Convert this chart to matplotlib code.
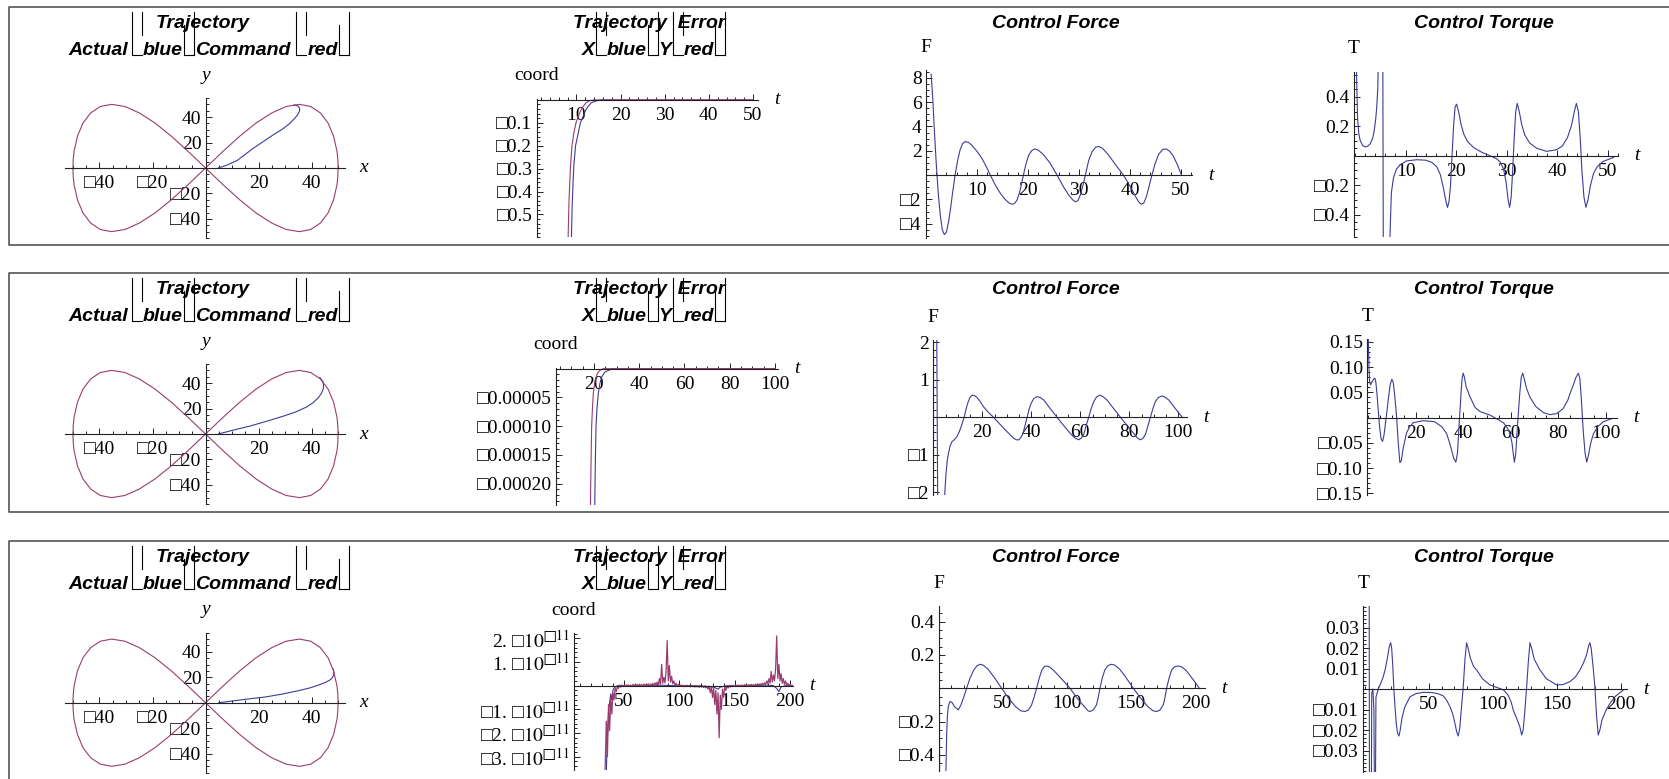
import numpy as np
import matplotlib
matplotlib.use("Agg")
import matplotlib.pyplot as plt
from matplotlib.lines import Line2D
from matplotlib.ticker import FixedLocator, MultipleLocator, FuncFormatter

plt.rcParams['font.family'] = ['Liberation Serif', 'DejaVu Sans']
plt.rcParams['mathtext.fontset'] = 'stix'
plt.rcParams['font.size'] = 14

W, H = 1669, 779
BLUE = '#3d3d99'
RED = '#993d71'

# ---------------- data ----------------
# commanded figure-eight (same in every row)
cmd_x = [0, 6.5, 12.9, 19.1, 25, 30.4, 35.4, 39.7, 43.3, 46.2, 48.3, 49.6, 49.9, 50,
         49.9, 49.6, 48.3, 46.2, 43.3, 39.7, 35.4, 30.4, 25, 19.1, 12.9, 6.5, 0,
         -6.5, -12.9, -19.1, -25, -30.4, -35.4, -39.7, -43.3, -46.2, -48.3, -49.6, -49.9, -50,
         -49.9, -49.6, -48.3, -46.2, -43.3, -39.7, -35.4, -30.4, -25, -19.1, -12.9, -6.5, 0]
cmd_y = [0, 12.9, 25, 35.4, 43.3, 48.3, 50, 48.3, 43.3, 35.4, 25, 12.9, 6.5, 0,
         -6.5, -12.9, -25, -35.4, -43.3, -48.3, -50, -48.3, -43.3, -35.4, -25, -12.9, 0,
         12.9, 25, 35.4, 43.3, 48.3, 50, 48.3, 43.3, 35.4, 25, 12.9, 6.5, 0,
         -6.5, -12.9, -25, -35.4, -43.3, -48.3, -50, -48.3, -43.3, -35.4, -25, -12.9, 0]

# actual path until it joins the command
act1 = [(4.8, 0), (8, 2.2), (12, 6), (18, 15.5), (25.5, 26), (29, 30.5), (31.8, 35),
        (33.6, 39), (34.7, 41.7), (35.4, 44.5), (35.5, 47), (34.8, 48.8), (33.3, 49.6)]
act2 = [(4.8, 0), (10, 2.8), (16.7, 6.2), (23, 10), (29.3, 14), (34, 17.3), (38.1, 21.2),
        (40.5, 24.5), (42.5, 28.4), (43.7, 32), (44.4, 35.4), (44.5, 38.5), (44.2, 41.3), (43.1, 44.4)]
act3 = [(5, 0), (10, 1.3), (16, 2.9), (22.6, 4.5), (29, 6.8), (35.2, 9.5), (39.5, 11.7),
        (42.8, 14), (45.3, 16), (47.2, 18.2), (48.1, 20.5), (48.4, 23), (48.3, 25.5), (48.0, 26.9)]

# trajectory error
err1_red = [(8.0, -0.7), (8.3, -0.45), (8.65, -0.29), (9.0, -0.2), (9.4, -0.146), (9.9, -0.1),
            (10.4, -0.073), (11.0, -0.045), (11.5, -0.029), (12.2, -0.012), (13.0, -0.003),
            (14.0, 0.0), (50.0, 0.0)]
err1_blue = [(8.75, -0.7), (9.05, -0.45), (9.4, -0.29), (9.8, -0.2), (10.4, -0.146), (10.9, -0.1),
             (11.5, -0.073), (12.1, -0.045), (12.6, -0.029), (13.4, -0.012), (14.5, -0.004),
             (15.8, 0.0), (50.0, 0.0)]
err2_red = [(18.4, -0.00026), (18.5, -0.000216), (18.75, -0.00015), (18.96, -0.000101),
            (19.3, -0.00007), (19.7, -0.0000433), (20.3, -0.000025), (20.9, -0.0000145),
            (21.7, -0.000007), (22.6, -0.000003), (24.0, 0.0), (100.0, 0.0)]
err2_blue = [(20.3, -0.00026), (20.4, -0.000216), (20.65, -0.00015), (20.9, -0.000101),
             (21.3, -0.00007), (21.9, -0.0000433), (22.6, -0.000026), (23.4, -0.0000145),
             (24.8, -0.000006), (26.4, -0.000003), (28.0, 0.0), (100.0, 0.0)]
# row 3 error in units of 1e-11, one value per step from t = 32
err3_t0 = 32
err3_red = [-4.5, -3.4, -1.5, -3.0, -0.8, -1.9, -0.5, -1.2, -0.3, -0.6,
            -0.1, -0.25, -0.05, -0.12, 0.02, -0.06, 0.03, -0.04, 0.02, -0.03,
            0.03, -0.02, 0.04, -0.03, 0.02, -0.02, 0.05, -0.02, 0.04, -0.01,
            0.05, -0.02, 0.06, -0.01, 0.05, -0.03, 0.07, -0.02, 0.06, 0.0,
            0.08, -0.02, 0.07, 0.01, 0.1, -0.01, 0.12, 0.02, 0.15, 0.03,
            0.3, 0.05, 0.9, 0.1, 0.35, 0.12, 0.6, 1.9, 0.2, 0.85,
            0.15, 0.4, 0.08, 0.2, 0.03, 0.1, -0.01, 0.05, -0.02, 0.03,
            -0.03, 0.02, -0.03, 0.01, -0.04, 0.02, -0.03, 0.0, -0.05, 0.01,
            -0.04, 0.0, -0.06, 0.01, -0.05, -0.01, -0.07, 0.0, -0.06, -0.02,
            -0.08, -0.01, -0.1, -0.03, -0.15, -0.02, -0.3, -0.05, -0.5, -0.1,
            -0.8, -0.2, -1.2, -0.3, -2.2, -0.4, -1.0, -0.15, -0.5, -0.05,
            -0.2, 0.0, -0.1, 0.01, -0.06, 0.02, -0.04, 0.01, -0.03, 0.02,
            -0.02, 0.03, -0.02, 0.02, -0.01, 0.03, -0.02, 0.04, 0.0, 0.03,
            -0.01, 0.04, 0.0, 0.05, 0.01, 0.04, 0.0, 0.06, 0.01, 0.07,
            0.02, 0.08, 0.03, 0.1, 0.04, 0.12, 0.05, 0.2, 0.08, 0.3,
            0.1, 0.6, 0.15, 0.45, 0.2, 0.7, 2.1, 0.3, 0.9, 0.2,
            0.5, 0.1, 0.3, 0.05, 0.2, 0.02, 0.1, 0.0, 0.05, 0.0,
            0.02, 0.0]
err3_blue = [(32, -4.5), (33, -4.0), (34, -3.6), (35, -2.2), (36, -1.1), (37, -0.7), (38, -0.35),
             (39, -0.6), (40, -0.2), (41, -0.1), (42, -0.05), (45, 0.01), (50, -0.01), (60, 0.01),
             (70, -0.01), (80, 0.02), (90, 0.01), (100, -0.01), (110, 0.0), (120, -0.02),
             (128, -0.04), (132, -0.08), (135, -0.15), (137, -0.06), (141, -0.02), (150, 0.0),
             (160, 0.01), (170, 0.01), (180, 0.02), (185, 0.0), (188, -0.12), (190, -0.25),
             (192, -0.05), (196, 0.0), (203, 0.0)]

# control force
force1 = [(1.0, 8.3), (1.3, 6.5), (1.6, 4.0), (2.0, 1.0), (2.4, -1.5), (2.8, -3.3), (3.2, -4.5),
          (3.6, -4.9), (4.0, -4.7), (4.4, -3.9), (4.8, -2.8), (5.2, -1.5), (5.7, 0.0), (6.2, 1.2),
          (6.7, 2.1), (7.2, 2.6), (7.7, 2.75), (8.3, 2.7), (9.0, 2.45), (10.0, 1.95), (11.0, 1.35),
          (12.0, 0.55), (12.6, 0.0), (13.5, -0.75), (14.5, -1.45), (15.5, -2.0), (16.3, -2.3),
          (16.9, -2.4), (17.3, -2.35), (17.8, -2.1), (18.3, -1.5), (18.7, -0.8), (19.1, 0.0),
          (19.6, 0.9), (20.1, 1.6), (20.7, 2.0), (21.3, 2.15), (22.0, 2.05), (23.0, 1.7),
          (24.3, 1.0), (25.7, 0.0), (27.0, -1.0), (28.0, -1.65), (28.8, -2.05), (29.3, -2.2),
          (29.8, -2.1), (30.3, -1.6), (30.8, -0.8), (31.3, 0.1), (31.9, 1.2), (32.6, 1.95),
          (33.3, 2.3), (33.9, 2.35), (34.6, 2.2), (35.6, 1.75), (37.0, 0.95), (38.7, 0.0),
          (40.0, -0.9), (41.0, -1.7), (41.7, -2.2), (42.2, -2.4), (42.7, -2.3), (43.2, -1.8),
          (43.7, -1.0), (44.3, 0.0), (44.9, 0.9), (45.6, 1.7), (46.4, 2.1), (47.1, 2.15),
          (47.8, 1.95), (48.5, 1.55), (49.3, 0.85), (50.0, 0.1)]
force2 = [(1.4, 2.3), (1.8, -2.3), (4.5, -2.3), (4.7, -2.0), (5.2, -1.49), (5.7, -1.15),
          (6.2, -0.96), (6.8, -0.78), (7.5, -0.66), (8.5, -0.6), (9.6, -0.52), (10.5, -0.4),
          (11.3, -0.26), (12.0, -0.12), (12.6, 0.0), (13.3, 0.2), (14.0, 0.37), (14.9, 0.52),
          (15.8, 0.59), (16.8, 0.58), (17.8, 0.53), (19.0, 0.43), (20.5, 0.28), (22.5, 0.13),
          (24.6, 0.0), (26.7, -0.15), (28.7, -0.29), (30.8, -0.43), (32.8, -0.56), (34.0, -0.6),
          (34.9, -0.6), (35.8, -0.53), (36.6, -0.43), (37.5, -0.2), (38.3, 0.0), (39.1, 0.22),
          (39.9, 0.37), (41.0, 0.5), (42.3, 0.55), (43.6, 0.53), (45.1, 0.46), (47.5, 0.25),
          (50.5, 0.0), (53.2, -0.22), (55.9, -0.43), (57.8, -0.55), (59.3, -0.6), (60.4, -0.55),
          (61.4, -0.45), (62.4, -0.22), (63.4, 0.0), (64.4, 0.23), (65.5, 0.42), (66.6, 0.54),
          (67.9, 0.59), (69.3, 0.55), (70.9, 0.46), (73.5, 0.24), (76.4, 0.0), (79.1, -0.22),
          (81.8, -0.43), (83.3, -0.55), (84.5, -0.6), (85.6, -0.56), (86.6, -0.45), (87.6, -0.22),
          (88.6, 0.0), (89.6, 0.23), (90.6, 0.42), (91.9, 0.53), (93.4, 0.57), (94.7, 0.53),
          (96.1, 0.46), (98.8, 0.23), (101.6, 0.0)]
force3 = [(0.5, 0.6), (0.9, -0.6), (5.5, -0.6), (5.8, -0.49), (6.3, -0.3), (6.9, -0.17),
          (7.6, -0.11), (8.9, -0.08), (10.5, -0.085), (12.5, -0.11), (15.4, -0.13), (17.5, -0.1),
          (19.8, -0.05), (21.9, 0.0), (24.5, 0.06), (27.5, 0.11), (30.0, 0.135), (32.3, 0.144),
          (35.0, 0.138), (38.5, 0.115), (43.0, 0.07), (49.2, 0.0), (54.5, -0.06), (60.0, -0.11),
          (64.0, -0.135), (67.3, -0.14), (70.0, -0.13), (72.5, -0.1), (74.6, -0.05), (76.4, 0.0),
          (78.4, 0.06), (80.5, 0.11), (82.5, 0.13), (84.2, 0.134), (86.5, 0.128), (90.0, 0.105),
          (96.0, 0.055), (102.4, 0.0), (108.0, -0.06), (113.5, -0.11), (116.5, -0.135),
          (117.9, -0.14), (120.5, -0.13), (123.0, -0.1), (124.5, -0.05), (125.7, 0.0),
          (127.5, 0.06), (129.5, 0.11), (132.0, 0.137), (134.8, 0.144), (137.5, 0.138),
          (141.0, 0.115), (145.5, 0.07), (151.7, 0.0), (157.5, -0.06), (163.0, -0.11),
          (167.0, -0.135), (169.8, -0.14), (172.5, -0.13), (175.0, -0.1), (176.5, -0.05),
          (177.6, 0.0), (179.5, 0.06), (181.5, 0.11), (184.0, 0.13), (186.7, 0.134),
          (189.5, 0.128), (193.0, 0.105), (198.0, 0.055), (203.1, 0.0)]

# control torque
torque1 = [(0.2, 0.7), (0.5, 0.26), (0.75, 0.15), (1.0, 0.106), (1.5, 0.07), (2.0, 0.06),
           (2.5, 0.065), (3.0, 0.08), (3.5, 0.12), (3.8, 0.17), (4.1, 0.25), (4.3, 0.33),
           (4.5, 0.45), (4.65, 0.7), (5.5, 0.7), (5.6, -0.7), (6.8, -0.7), (7.0, -0.45),
           (7.2, -0.25), (7.6, -0.15), (8.2, -0.09), (9.0, -0.06), (10.2, -0.035), (12.2, -0.027),
           (14.0, -0.03), (15.2, -0.045), (16.2, -0.075), (16.9, -0.13), (17.5, -0.22),
           (18.0, -0.31), (18.3, -0.35), (18.6, -0.31), (18.9, -0.2), (19.2, 0.0), (19.5, 0.2),
           (19.8, 0.33), (20.1, 0.35), (20.5, 0.3), (21.0, 0.21), (21.6, 0.14), (22.3, 0.095),
           (23.5, 0.055), (25.0, 0.025), (26.7, 0.0), (28.0, -0.02), (28.8, -0.045), (29.4, -0.09),
           (29.9, -0.18), (30.3, -0.3), (30.6, -0.35), (30.9, -0.28), (31.2, -0.1), (31.5, 0.12),
           (31.8, 0.3), (32.1, 0.355), (32.5, 0.3), (33.0, 0.21), (33.6, 0.14), (34.6, 0.085),
           (36.0, 0.05), (37.9, 0.03), (39.8, 0.04), (41.0, 0.065), (42.0, 0.12), (42.8, 0.2),
           (43.4, 0.3), (43.8, 0.355), (44.2, 0.3), (44.6, 0.1), (44.9, -0.1), (45.3, -0.28),
           (45.7, -0.35), (46.1, -0.3), (46.6, -0.2), (47.2, -0.12), (47.9, -0.075), (49.0, -0.04),
           (50.5, -0.02), (51.2, -0.01)]
torque2 = [(0.1, 0.16), (0.4, 0.1), (0.7, 0.07), (1.1, 0.065), (1.8, 0.072), (2.5, 0.077),
           (2.9, 0.078), (3.3, 0.07), (3.8, 0.045), (4.3, 0.015), (4.9, -0.02), (5.5, -0.042),
           (6.1, -0.047), (6.7, -0.035), (7.5, -0.005), (8.5, 0.035), (9.3, 0.065), (10.0, 0.076),
           (10.6, 0.07), (11.2, 0.045), (12.0, 0.002), (12.7, -0.05), (13.4, -0.089),
           (14.0, -0.085), (14.8, -0.06), (16.2, -0.03), (17.5, -0.018), (19.0, -0.01),
           (23.2, -0.006), (28.0, -0.008), (31.0, -0.018), (33.0, -0.031), (34.3, -0.05),
           (35.1, -0.064), (36.0, -0.08), (36.9, -0.088), (37.6, -0.07), (38.2, -0.02),
           (38.6, 0.01), (39.1, 0.05), (39.6, 0.08), (40.0, 0.088), (40.5, 0.08), (41.3, 0.06),
           (42.8, 0.042), (45.0, 0.02), (47.1, 0.012), (51.3, 0.005), (54.0, -0.002),
           (56.9, -0.01), (58.5, -0.02), (59.7, -0.031), (60.5, -0.05), (61.0, -0.07),
           (61.5, -0.088), (62.1, -0.07), (62.6, -0.03), (63.2, 0.01), (63.8, 0.05), (64.4, 0.08),
           (65.0, 0.088), (65.6, 0.078), (66.6, 0.058), (68.1, 0.04), (70.5, 0.022), (73.7, 0.01),
           (76.5, 0.006), (79.3, 0.008), (82.0, 0.018), (84.0, 0.035), (84.9, 0.048),
           (86.3, 0.065), (87.4, 0.08), (88.4, 0.088), (89.0, 0.078), (89.6, 0.04), (90.1, 0.0),
           (90.5, -0.03), (91.2, -0.07), (91.9, -0.088), (92.6, -0.075), (93.6, -0.05),
           (94.7, -0.032), (96.5, -0.018), (98.9, -0.008), (102.4, -0.002)]
torque3 = [(3.3, 0.05), (3.5, -0.05), (5.0, -0.05), (5.3, -0.002), (6.2, 0.0), (7.0, -0.01),
           (7.4, -0.05), (8.2, -0.05), (8.6, -0.004), (10.4, 0.0), (12.5, 0.003), (14.3, 0.006),
           (16.0, 0.01), (17.5, 0.015), (19.0, 0.0206), (20.1, 0.0226), (20.9, 0.02), (21.8, 0.011),
           (22.6, 0.0), (23.5, -0.0086), (24.5, -0.017), (25.5, -0.0215), (26.6, -0.0229),
           (27.6, -0.02), (29.0, -0.014), (31.0, -0.009), (35.2, -0.0038), (40.0, -0.0022),
           (45.6, -0.0016), (52.0, -0.0017), (56.1, -0.0021), (61.0, -0.0032), (64.0, -0.0055),
           (66.5, -0.0086), (68.6, -0.012), (70.4, -0.0167), (71.8, -0.021), (73.0, -0.0229),
           (74.2, -0.019), (75.5, -0.009), (76.9, 0.0011), (78.2, 0.014), (79.5, 0.0226),
           (80.7, 0.02), (82.5, 0.015), (85.0, 0.011), (87.4, 0.0093), (92.0, 0.005), (97.8, 0.002),
           (103.0, 0.0008), (108.2, -0.0003), (112.0, -0.003), (114.5, -0.0065), (116.0, -0.0102),
           (118.8, -0.0145), (121.2, -0.0184), (122.6, -0.0224), (123.8, -0.02), (125.2, -0.01),
           (126.5, 0.001), (127.8, 0.013), (129.1, 0.0226), (130.4, 0.02), (132.5, 0.0145),
           (136.9, 0.0093), (142.0, 0.005), (150.0, 0.002), (155.0, 0.0022), (160.4, 0.0036),
           (164.5, 0.0058), (168.0, 0.009), (170.8, 0.0125), (173.3, 0.0165), (175.0, 0.021),
           (176.0, 0.0226), (177.0, 0.02), (178.5, 0.011), (179.9, 0.001), (181.2, -0.013),
           (182.5, -0.0224), (183.8, -0.02), (185.5, -0.015), (188.5, -0.0105), (191.7, -0.007),
           (196.0, -0.0035), (202.1, -0.0005)]

# tick values
traj_ticks = [-40, -20, 20, 40]
err_xticks = [[10, 20, 30, 40, 50], [20, 40, 60, 80, 100], [50, 100, 150, 200]]
err_yticks = [[-0.5, -0.4, -0.3, -0.2, -0.1], [-0.0002, -0.00015, -0.0001, -0.00005],
              [-3e-11, -2e-11, -1e-11, 1e-11, 2e-11]]
force_xticks = err_xticks
force_yticks = [[-4, -2, 2, 4, 6, 8], [-2, -1, 1, 2], [-0.4, -0.2, 0.2, 0.4]]
torque_xticks = err_xticks
torque_yticks = [[-0.4, -0.2, 0.2, 0.4], [-0.15, -0.1, -0.05, 0.05, 0.1, 0.15],
                 [-0.03, -0.02, -0.01, 0.01, 0.02, 0.03]]

# ---------------- figure ----------------
fig = plt.figure(figsize=(W / 100, H / 100), dpi=100)
renderer = fig.canvas.get_renderer()
TITLE_KW = dict(family=['Liberation Sans', 'DejaVu Sans'], weight='bold', style='italic', size=14)
AX_COLOR = '#222222'


def fx(x):
    return x / W


def fy(y):
    return 1 - y / H


def fig_line(xs, ys, color='black', lw=0.8):
    fig.add_artist(Line2D([fx(x) for x in xs], [fy(y) for y in ys], color=color, lw=lw))


def neg_fmt(fmt):
    return FuncFormatter(lambda v, pos: ('□' if v < 0 else '') + (fmt % abs(v)))


def sci_fmt(v, pos):
    m = v / 1e-11
    return ('□' if m < 0 else '') + '%d. □' % round(abs(m)) + r'$\mathrm{10}^{□11}$'


def make_axes(box, xlim, ylim, xspine, xt, yt, xminor, yminor, xf, yf, xlab, ylab):
    x0, x1, y0, y1 = box
    ax = fig.add_axes([fx(x0), fy(y1), (x1 - x0) / W, (y1 - y0) / H])
    ax.set_xlim(xlim)
    ax.set_ylim(ylim)
    ax.patch.set_visible(False)
    for s in ('top', 'right'):
        ax.spines[s].set_visible(False)
    ax.spines['left'].set_position(('data', xspine))
    ax.spines['bottom'].set_position(('data', 0))
    for s in ('left', 'bottom'):
        ax.spines[s].set_color(AX_COLOR)
        ax.spines[s].set_linewidth(0.8)
    ax.xaxis.set_major_locator(FixedLocator(xt))
    ax.yaxis.set_major_locator(FixedLocator(yt))
    ax.xaxis.set_minor_locator(MultipleLocator(xminor))
    ax.yaxis.set_minor_locator(MultipleLocator(yminor))
    ax.xaxis.set_major_formatter(xf)
    ax.yaxis.set_major_formatter(yf)
    ax.tick_params(which='both', direction='in', color=AX_COLOR, width=0.7, labelsize=14)
    ax.tick_params(which='major', length=4)
    ax.tick_params(which='minor', length=2.2)
    ax.tick_params(axis='x', pad=5)
    ax.tick_params(axis='y', pad=3)
    # axis labels in Mathematica style
    sx = x0 + (xspine - xlim[0]) / (xlim[1] - xlim[0]) * (x1 - x0)
    ay = y0 + (ylim[1] - 0) / (ylim[1] - ylim[0]) * (y1 - y0)
    lab_kw = dict(ha='center', va='center', size=14)
    fig.text(fx(sx), fy(y0 - 23), ylab[0], style=ylab[1], **lab_kw)
    fig.text(fx(x1 + 19), fy(ay), xlab[0], style=xlab[1], **lab_kw)
    return ax


def text_width(s):
    t = fig.text(0, 0, s, **TITLE_KW)
    w = t.get_window_extent(renderer=renderer).width
    t.remove()
    return w


def title_two(cx1, cx2, yb1, yb2, line1, parts):
    fig.text(fx(cx1), fy(yb1), line1, ha='center', va='baseline', **TITLE_KW)
    BR = 12
    widths = []
    for p in parts:
        if isinstance(p, (int, float)):
            widths.append(p)
        elif p in ('(', ')'):
            widths.append(BR)
        else:
            widths.append(text_width(p))
    x = cx2 - sum(widths) / 2
    top = yb1 - 16
    for p, w in zip(parts, widths):
        if p == '(':
            fig_line([x + 1, x + 1, x + BR - 1], [top, yb2, yb2])
            fig_line([x + BR - 1, x + BR - 1], [top, yb1 + 7])
        elif p == ')':
            fig_line([x + 1, x + BR - 1], [yb2, yb2])
            fig_line([x + 1, x + 1], [yb1 - 3, yb2])
            fig_line([x + BR - 1, x + BR - 1], [top, yb2])
        elif isinstance(p, str):
            fig.text(fx(x), fy(yb2), p, ha='left', va='baseline', **TITLE_KW)
        x += w


frame_tops = [7, 273, 541]
frame_bottoms = [245, 512, 800]
title_y1 = [28, 294, 562]
title_y2 = [55, 321, 589]
for t, b in zip(frame_tops, frame_bottoms):
    fig_line([W + 5, 9, 9, W + 5], [t, t, b, b], color='#555555', lw=1.2)

# ---- column 1: trajectory ----
traj_boxes = [(65, 345, 98, 238), (65, 345, 364, 504), (65, 345, 632.7, 772.7)]
acts = [act1, act2, act3]
for r in range(3):
    ax = make_axes(traj_boxes[r], (-53, 52.6), (-55, 55), 0, traj_ticks, traj_ticks, 5, 5,
                   neg_fmt('%d'), neg_fmt('%d'), ('x', 'italic'), ('y', 'italic'))
    ax_x, ax_y = zip(*acts[r])
    ax.plot(ax_x, ax_y, color=BLUE, lw=0.8)
    ax.plot(cmd_x, cmd_y, color=RED, lw=0.8)
    title_two(203, 209, title_y1[r], title_y2[r], 'Trajectory',
              ['Actual', 3, '(', 'blue', ')', 'Command', 5, '(', 'red', ')'])

# ---- column 2: trajectory error ----
err_boxes = [(536.7, 758.3, 99, 237.3), (556, 778.3, 367.5, 505), (574, 793.3, 633.3, 770)]
err_xlims = [(1, 51.2), (3.2, 101.5), (4.8, 203)]
err_ylims = [(-0.6, 0.004), (-0.000237, 0.000002), (-3.56e-11, 2.21e-11)]
err_xminor = [2, 5, 10]
err_yminor = [0.02, 0.00001, 0.2e-11]
err_yfmt = [neg_fmt('%.1f'), neg_fmt('%.5f'), FuncFormatter(sci_fmt)]
err_data = [(err1_blue, err1_red), (err2_blue, err2_red)]
for r in range(3):
    ax = make_axes(err_boxes[r], err_xlims[r], err_ylims[r], err_xlims[r][0], err_xticks[r],
                   err_yticks[r], err_xminor[r], err_yminor[r], neg_fmt('%d'), err_yfmt[r],
                   ('t', 'italic'), ('coord', 'normal'))
    if r < 2:
        bx, by = zip(*err_data[r][0])
        rx, ry = zip(*err_data[r][1])
        ax.plot(bx, by, color=BLUE, lw=0.8)
        ax.plot(rx, ry, color=RED, lw=0.8)
    else:
        bx, by = zip(*err3_blue)
        ax.plot(bx, np.array(by) * 1e-11, color=BLUE, lw=0.8)
        rt = err3_t0 + np.arange(len(err3_red))
        ax.plot(rt, np.array(err3_red) * 1e-11, color=RED, lw=0.9)
    title_two(649, 654, title_y1[r], title_y2[r], 'Trajectory  Error',
              ['X', '(', 'blue', ')', 'Y', '(', 'red', ')'])

# ---- column 3: control force ----
force_boxes = [(926, 1191.7, 70, 238.3), (933.3, 1186.7, 340, 495), (939, 1205, 606, 770.7)]
force_xlims = [(0, 52.1), (0, 103.4), (0.4, 207.5)]
force_ylims = [(-5.2, 8.64), (-2.07, 2.06), (-0.495, 0.494)]
force_yminor = [0.5, 0.2, 0.05]
force_yfmt = [neg_fmt('%d'), neg_fmt('%d'), neg_fmt('%.1f')]
forces = [force1, force2, force3]
for r in range(3):
    ax = make_axes(force_boxes[r], force_xlims[r], force_ylims[r], force_xlims[r][0],
                   force_xticks[r], force_yticks[r], err_xminor[r], force_yminor[r],
                   neg_fmt('%d'), force_yfmt[r], ('t', 'italic'), ('F', 'normal'))
    tx, fv = zip(*forces[r])
    ax.plot(tx, fv, color=BLUE, lw=0.8)
    fig.text(fx(1056), fy(title_y1[r]), 'Control Force', ha='center', va='baseline', **TITLE_KW)

# ---- column 4: control torque ----
torque_boxes = [(1354, 1618.3, 71.7, 237.3), (1367.3, 1616.7, 339.3, 495),
                (1363.3, 1626.7, 606, 771.7)]
torque_xlims = [(-0.2, 52.1), (-0.3, 104.5), (-1.3, 204.8)]
torque_ylims = [(-0.553, 0.57), (-0.153, 0.155), (-0.0403, 0.0405)]
torque_yminor = [0.05, 0.01, 0.002]
torque_yfmt = [neg_fmt('%.1f'), neg_fmt('%.2f'), neg_fmt('%.2f')]
torques = [torque1, torque2, torque3]
for r in range(3):
    ax = make_axes(torque_boxes[r], torque_xlims[r], torque_ylims[r], torque_xlims[r][0],
                   torque_xticks[r], torque_yticks[r], err_xminor[r], torque_yminor[r],
                   neg_fmt('%d'), torque_yfmt[r], ('t', 'italic'), ('T', 'normal'))
    tx, tv = zip(*torques[r])
    ax.plot(tx, tv, color=BLUE, lw=0.8)
    fig.text(fx(1484), fy(title_y1[r]), 'Control Torque', ha='center', va='baseline', **TITLE_KW)

fig.savefig('out.png', dpi=100)
